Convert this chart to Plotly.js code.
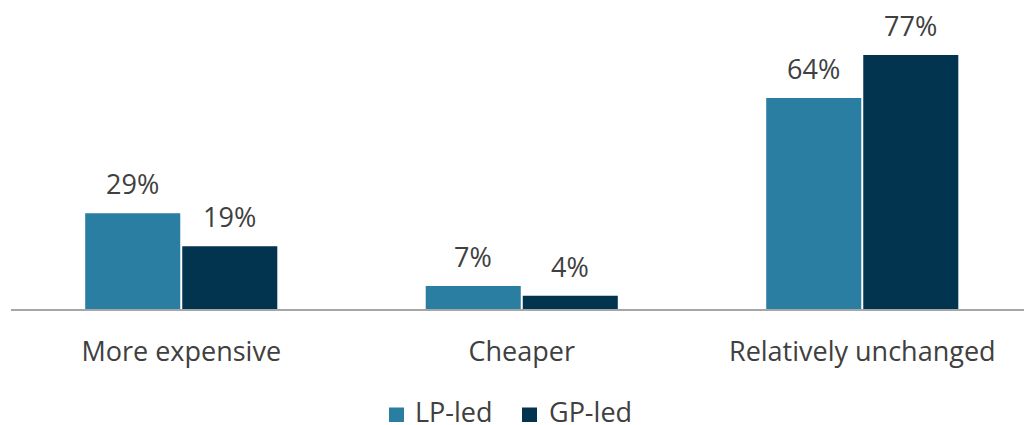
<!DOCTYPE html>
<html>
<head>
<meta charset="utf-8">
<script src="https://cdn.plot.ly/plotly-3.0.1.min.js"></script>
<style>
  html, body { margin: 0; padding: 0; background: #ffffff; }
  #chart { width: 1024px; height: 425px; }
</style>
</head>
<body>
<div id="chart"></div>
<script>
// Price expectations by transaction type (% of respondents)
const categories = ["More expensive", "Cheaper", "Relatively unchanged"];
const seriesNames = ["LP-led", "GP-led"];
const lpLed = [29, 7, 64];
const gpLed = [19, 4, 77];

const colors = ["#2a7ea1", "#02334f"];
const textColor = "#404040";
const fontFamily = "'Open Sans', 'Noto Sans', sans-serif";

const W = 1024, H = 425;
const margin = { l: 11, r: 0, t: 0, b: 116 };
const plotW = W - margin.l - margin.r;
const plotH = H - margin.t - margin.b;
// pixel -> paper coordinate helpers for the legend row
const px = (x) => (x - margin.l) / plotW;
const py = (y) => (H - margin.b - y) / plotH;

const seriesValues = [lpLed, gpLed];

const traces = seriesValues.map((vals, i) => ({
  type: "bar",
  name: seriesNames[i],
  x: categories,
  y: vals,
  marker: { color: colors[i], line: { width: 0 } },
  hoverinfo: "skip",
  showlegend: false
}));

// Value labels above each bar, offset to the bar's slot within its group
const slotShift = 48.5;
const annotations = [];
seriesValues.forEach((vals, i) => {
  vals.forEach((v, j) => {
    annotations.push({
      x: categories[j],
      y: v,
      xref: "x",
      yref: "y",
      text: v + "%",
      showarrow: false,
      xanchor: "center",
      yanchor: "bottom",
      xshift: (i === 0 ? -1 : 1) * slotShift,
      yshift: 9,
      font: { family: fontFamily, size: 27, color: textColor }
    });
  });
});

// Legend row below the category labels
const legendItems = [
  { swatchLeft: 389, textLeft: 413 },
  { swatchLeft: 522, textLeft: 547 }
];
const swatchSize = 15;
const legendMid = 411;
const shapes = [];
legendItems.forEach((item, i) => {
  shapes.push({
    type: "rect",
    xref: "paper",
    yref: "paper",
    x0: px(item.swatchLeft),
    x1: px(item.swatchLeft + swatchSize),
    y0: py(legendMid + 11),
    y1: py(legendMid - 3.5),
    fillcolor: colors[i],
    line: { width: 0 }
  });
  annotations.push({
    xref: "paper",
    yref: "paper",
    x: px(item.textLeft),
    y: py(legendMid),
    text: seriesNames[i],
    showarrow: false,
    xanchor: "left",
    yanchor: "middle",
    font: { family: fontFamily, size: 27, color: textColor }
  });
});

const layout = {
  width: W,
  height: H,
  margin: { l: margin.l, r: margin.r, t: margin.t, b: margin.b, pad: 0 },
  paper_bgcolor: "#ffffff",
  plot_bgcolor: "#ffffff",
  barmode: "group",
  bargap: 0.43,
  bargroupgap: 0.0206,
  showlegend: false,
  xaxis: {
    type: "category",
    range: [-0.5, 2.475],
    showline: true,
    linecolor: "#a6a6a6",
    linewidth: 2,
    ticks: "",
    showgrid: false,
    zeroline: false,
    tickfont: { family: fontFamily, size: 27, color: textColor },
    ticklabelstandoff: 18,
    fixedrange: true
  },
  yaxis: {
    range: [0, 93.7],
    visible: false,
    showgrid: false,
    zeroline: false,
    fixedrange: true
  },
  shapes: shapes,
  annotations: annotations,
  font: { family: fontFamily, color: textColor }
};

Plotly.newPlot("chart", traces, layout, { displayModeBar: false, staticPlot: true });
</script>
</body>
</html>
